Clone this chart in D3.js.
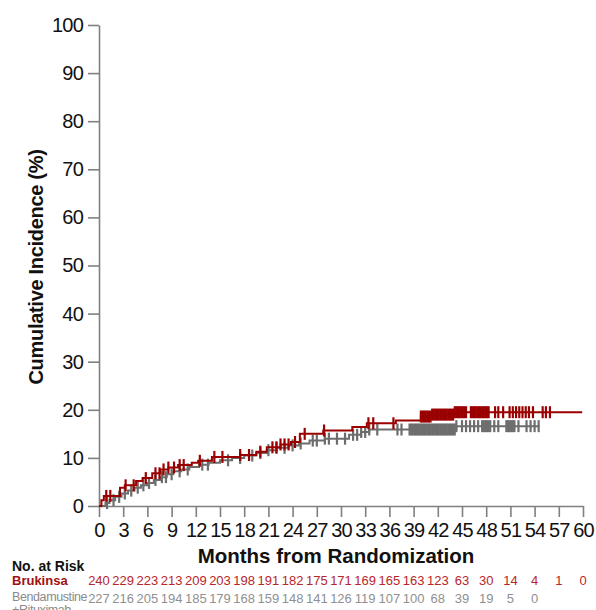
<!DOCTYPE html>
<html><head><meta charset="utf-8">
<script src="https://cdn.jsdelivr.net/npm/d3@7"></script>
<style>body{margin:0;background:#fff}svg{display:block}</style>
</head><body>
<svg id="c" width="596" height="610"></svg>
<script>
// ---- data ----
const xTicks = [0,3,6,9,12,15,18,21,24,27,30,33,36,39,42,45,48,51,54,57,60];
const yTicks = [0,10,20,30,40,50,60,70,80,90,100];

const brukinsaTimes  = [0,0.3,0.6,2.6,3.2,4.6,5.4,6.6,7.6,8.6,9.8,11.5,12.3,14.0,17.5,19.5,20.8,22.5,23.8,24.9,27.8,31.4,33.2,36.8,39.9,41.3,44.1];
const brukinsaValues = [0,1.2,2.1,3.8,4.3,5.2,5.8,6.8,7.6,8.0,8.5,9.0,9.4,10.2,10.6,11.3,12.2,12.8,13.3,15.0,15.7,16.4,17.2,17.8,18.6,19.0,19.5];
const brukinsaEnd = 59.9;
const brukinsaCensor = [0.9,1.4,3.3,4.3,5.8,7.0,7.5,8.0,8.6,9.3,10.0,10.5,12.5,14.3,15.3,17.5,18.6,20.0,21.5,22.0,22.5,23.0,23.5,24.3,25.5,27.9,33.4,34.0,36.5,
  39.9,40.1,40.3,40.5,40.7,40.9,41.1,41.3,41.5,41.7,41.9,42.1,42.3,42.5,42.7,42.9,43.1,43.3,43.5,43.7,43.9,
  44.1,44.3,44.5,44.7,44.9,45.1,45.3,45.5,46.1,46.3,46.5,46.7,46.9,47.1,47.3,47.5,47.7,47.9,48.1,48.3,
  49.1,49.5,50.1,50.9,51.3,51.7,52.1,52.5,52.9,53.3,53.8,55.0,55.4,55.9];

const brTimes  = [0,0.8,1.3,2.0,2.8,3.6,4.4,5.2,6.0,6.8,7.6,8.4,9.2,10.2,11.2,12.4,13.6,15.0,16.5,18.0,19.5,20.8,22.0,23.5,24.8,26.1,28.0,31.0,32.5,33.5,44.3];
const brValues = [0,0.6,1.2,1.9,2.6,3.2,3.8,4.3,4.8,5.4,6.0,6.6,7.2,7.6,8.1,8.6,9.0,9.5,10.0,10.5,11.0,11.6,12.1,12.6,13.0,13.6,14.0,14.8,15.4,15.9,16.6];
const brEnd = 54.6;
const brCensor = [1.0,1.8,2.5,3.2,4.0,4.8,5.5,6.2,7.0,7.8,8.3,9.0,10.0,11.0,12.8,13.5,16.0,17.5,19.0,20.0,21.0,22.0,23.0,24.0,25.0,26.5,27.0,28.0,28.5,29.5,30.5,
  31.5,32.0,32.5,33.0,33.5,34.5,37.0,37.5,
  38.5,38.7,38.9,39.1,39.3,39.5,39.7,39.9,40.1,40.3,40.5,40.7,40.9,41.1,41.3,41.5,41.7,41.9,42.1,42.3,42.5,42.7,42.9,43.1,43.3,43.5,43.7,43.9,44.1,44.3,
  45.0,45.5,46.0,46.5,47.0,47.5,47.7,47.9,48.1,48.3,48.5,49.0,49.5,50.5,50.7,50.9,51.1,51.3,51.5,52.0,53.0,53.5,54.0,54.5];

const riskBrukinsa = [240,229,223,213,209,203,198,191,182,175,171,169,165,163,123,63,30,14,4,1,0];
const riskBR = [227,216,205,194,185,179,168,159,148,141,126,119,107,100,68,39,19,5,0];

// ---- chart ----
const svg = d3.select("#c");
const FONT = "'Liberation Sans', Arial, sans-serif";
const x = d3.scaleLinear().domain([0,60]).range([99,583]);
const y = d3.scaleLinear().domain([0,100]).range([506,25]);
const axisCol = "#808080";

const xAxis = svg.append("g").attr("transform","translate(0,506)")
  .call(d3.axisBottom(x).tickValues(xTicks).tickSize(11).tickPadding(6).tickSizeOuter(0));
const yAxis = svg.append("g").attr("transform","translate(99,0)")
  .call(d3.axisLeft(y).tickValues(yTicks).tickSize(11).tickPadding(5).tickSizeOuter(0));
[xAxis,yAxis].forEach(g=>{
  g.select(".domain").attr("stroke",axisCol).attr("stroke-width",1.6);
  g.selectAll(".tick line").attr("stroke",axisCol).attr("stroke-width",1.6);
  g.selectAll(".tick text").attr("fill","#111").attr("font-family",FONT).attr("font-size",20).attr("letter-spacing","-0.8px");
});
xAxis.selectAll(".tick text").attr("dy","0.71em");

function stepData(times, vals, end){
  const pts = times.map((t,i)=>[t,vals[i]]);
  pts.push([end, vals[vals.length-1]]);
  return pts;
}
function valueAt(times, vals, t){
  let v = 0;
  for(let i=0;i<times.length;i++){ if(times[i]<=t) v = vals[i]; }
  return v;
}
function drawSeries(times, vals, end, censor, col){
  const line = d3.line().x(d=>x(d[0])).y(d=>y(d[1])).curve(d3.curveStepAfter);
  svg.append("path").datum(stepData(times,vals,end))
    .attr("d",line).attr("fill","none").attr("stroke",col).attr("stroke-width",2);
  svg.append("g").selectAll("line").data(censor).join("line")
    .attr("x1",d=>x(d)).attr("x2",d=>x(d))
    .attr("y1",d=>y(valueAt(times,vals,d))-6).attr("y2",d=>y(valueAt(times,vals,d))+6)
    .attr("stroke",col).attr("stroke-width",2.2);
}
drawSeries(brTimes, brValues, brEnd, brCensor, "#6d6d6d");
drawSeries(brukinsaTimes, brukinsaValues, brukinsaEnd, brukinsaCensor, "#9a0000");

// axis titles
svg.append("text").attr("x",336).attr("y",563).attr("text-anchor","middle")
  .attr("font-family",FONT).attr("font-weight","bold").attr("font-size",20.5).attr("fill","#111")
  .text("Months from Randomization");
svg.append("text").attr("transform","translate(43,267) rotate(-90)").attr("text-anchor","middle")
  .attr("font-family",FONT).attr("font-weight","bold").attr("font-size",20).attr("fill","#111")
  .attr("letter-spacing","-0.3px")
  .text("Cumulative Incidence (%)");

// number at risk
svg.append("text").attr("x",12).attr("y",571).attr("font-family",FONT).attr("font-weight","bold")
  .attr("font-size",14).attr("fill","#111").text("No. at Risk");
svg.append("text").attr("x",12).attr("y",585).attr("font-family",FONT).attr("font-weight","bold")
  .attr("font-size",13).attr("fill","#a01010").text("Brukinsa");
svg.append("text").attr("x",12).attr("y",601).attr("font-family",FONT)
  .attr("font-size",12.5).attr("fill","#8a8a8a").attr("letter-spacing","-0.4px").text("Bendamustine");
svg.append("text").attr("x",12).attr("y",614).attr("font-family",FONT)
  .attr("font-size",12.5).attr("fill","#8a8a8a").attr("letter-spacing","-0.4px").text("+Rituximab");

svg.append("g").selectAll("text").data(riskBrukinsa).join("text")
  .attr("x",(d,i)=>x(xTicks[i])).attr("y",585).attr("text-anchor","middle")
  .attr("font-family",FONT).attr("font-size",13).attr("fill","#b8262b").text(d=>d);
svg.append("g").selectAll("text").data(riskBR).join("text")
  .attr("x",(d,i)=>x(xTicks[i])).attr("y",603).attr("text-anchor","middle")
  .attr("font-family",FONT).attr("font-size",13).attr("fill","#909090").text(d=>d);
</script>
</body></html>
